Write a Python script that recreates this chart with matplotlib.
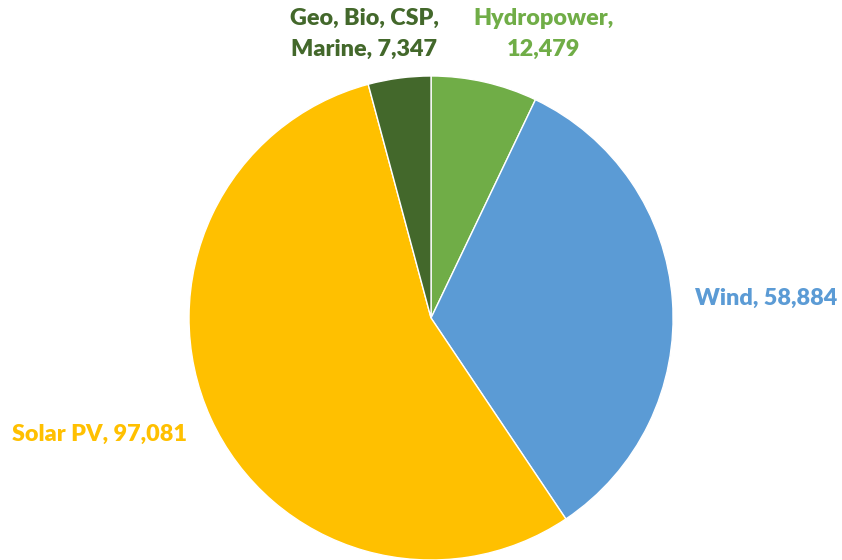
import matplotlib.pyplot as plt

labels = ["Hydropower", "Wind", "Solar PV", "Geo, Bio, CSP,\nMarine"]
values = [12479, 58884, 97081, 7347]
colors = ["#70AD47", "#5B9BD5", "#FFC000", "#43682B"]

# label anchor points in data units (pie radius = 1)
label_pos = [(0.463, 1.174), (1.384, 0.083), (-1.368, -0.483), (-0.277, 1.174)]
label_text = ["Hydropower,\n{:,}", "Wind, {:,}", "Solar PV, {:,}", "Geo, Bio, CSP,\nMarine, {:,}"]

plt.rcParams["font.family"] = ["Lato", "DejaVu Sans"]

fig = plt.figure(figsize=(8.42, 5.6), dpi=100)
ax = fig.add_axes([0, 0, 1, 1])
ax.pie(values, colors=colors, startangle=90, counterclock=False, radius=1,
       wedgeprops={"edgecolor": "white", "linewidth": 1})

for txt, v, (x, y), c in zip(label_text, values, label_pos, colors):
    ax.text(x, y, txt.format(v), color=c, fontsize=16.8, fontweight="heavy",
            ha="center", va="center", linespacing=1.6)

ax.set_xlim(-1.781, 1.698)
ax.set_ylim(-1.0, 1.314)
ax.set_aspect("auto")
ax.axis("off")

fig.savefig("out.png", dpi=100)
